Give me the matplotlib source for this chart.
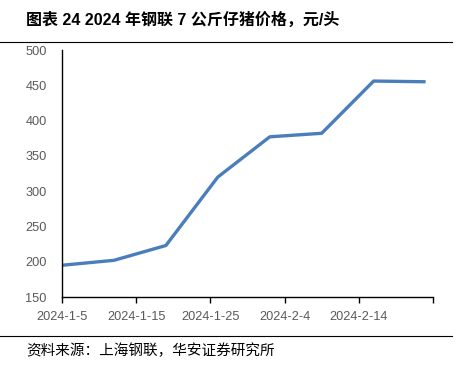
import numpy as np
import pandas as pd
import matplotlib.pyplot as plt
import matplotlib.dates as mdates
from matplotlib.lines import Line2D

# weekly piglet price (7 kg), yuan per head
dates = pd.to_datetime(['2024-01-05', '2024-01-12', '2024-01-19', '2024-01-26',
                        '2024-02-02', '2024-02-09', '2024-02-16', '2024-02-23'])
prices = [195, 202, 223, 320, 377, 382, 456, 455]

tick_dates = pd.to_datetime(['2024-01-05', '2024-01-15', '2024-01-25',
                             '2024-02-04', '2024-02-14', '2024-02-24'])
tick_labels = ['2024-1-5', '2024-1-15', '2024-1-25', '2024-2-4', '2024-2-14', '']

title = '图表 24 2024 年钢联 7 公斤仔猪价格，元/头'
source = '资料来源：上海钢联，华安证券研究所'

plt.rcParams['font.family'] = ['Liberation Sans', 'Noto Sans CJK SC', 'DejaVu Sans']

fig = plt.figure(figsize=(4.6, 3.68), dpi=100)
ax = fig.add_axes([0.1348, 0.1929, 0.8065, 0.6712])

ax.plot(dates, prices, color='#4a7ebb', linewidth=2.4, solid_capstyle='butt')

ax.set_ylim(150, 500)
ax.set_yticks(np.arange(150, 501, 50))
ax.set_xlim(tick_dates[0], tick_dates[-1])
ax.set_xticks(tick_dates)
ax.set_xticklabels(tick_labels)

for s in ['top', 'right']:
    ax.spines[s].set_visible(False)
for s in ['left', 'bottom']:
    ax.spines[s].set_color('#000000')
    ax.spines[s].set_linewidth(1.0)

ax.tick_params(axis='x', direction='out', length=4, width=1, colors='#000000',
               labelcolor='#595959', labelsize=9.2, pad=6)
ax.tick_params(axis='y', length=0, labelcolor='#595959', labelsize=9.2, pad=11)

fig.text(26 / 460, 1 - 20 / 368, title, fontsize=11.5, fontweight='bold',
         family=['Liberation Sans', 'Noto Sans CJK SC'], va='center', ha='left')
fig.add_artist(Line2D([0, 452 / 460], [1 - 42 / 368, 1 - 42 / 368],
                      color='#000000', linewidth=0.8))
fig.add_artist(Line2D([0, 452 / 460], [1 - 336 / 368, 1 - 336 / 368],
                      color='#000000', linewidth=0.8))
fig.text(26 / 460, 1 - 351 / 368, source, fontsize=10.5,
         family=['Noto Sans CJK SC'], va='center', ha='left')

fig.savefig('out.png', dpi=100)
